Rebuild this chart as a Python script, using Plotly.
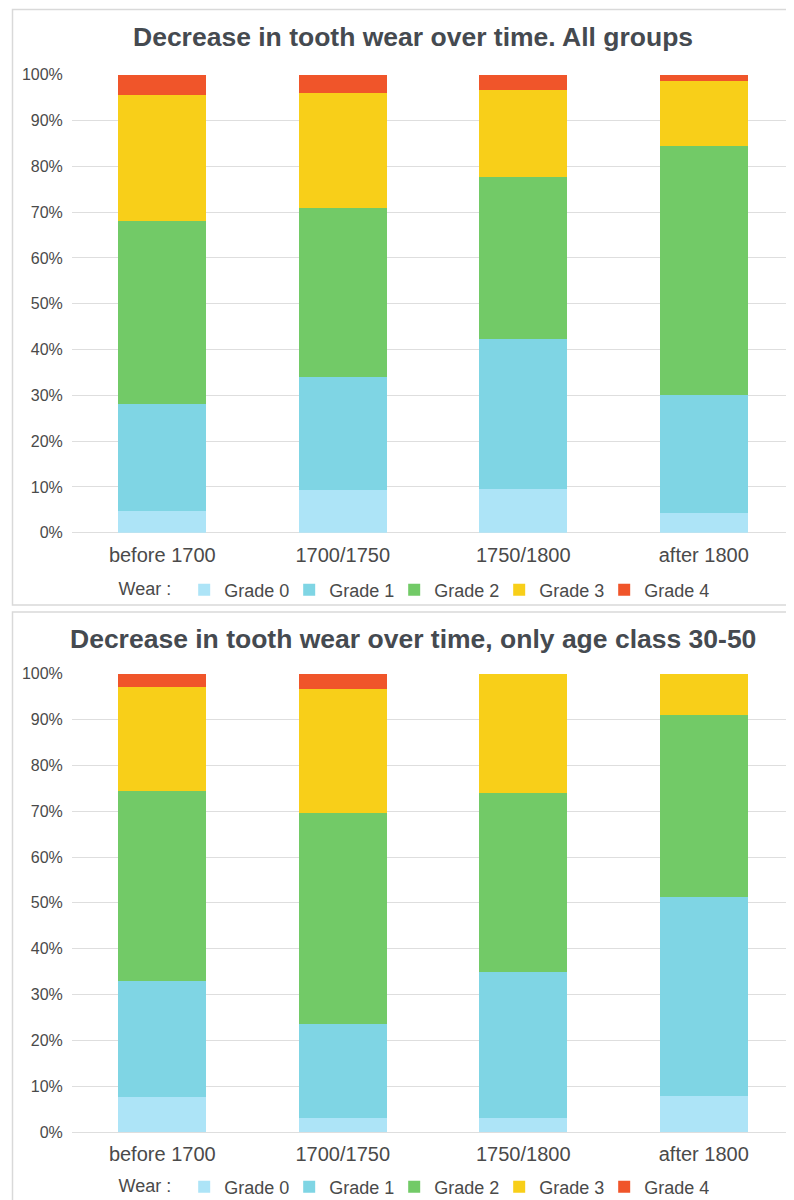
import plotly.graph_objects as go
from plotly.subplots import make_subplots

categories = ["before 1700", "1700/1750", "1750/1800", "after 1800"]
grades = ["Grade 0", "Grade 1", "Grade 2", "Grade 3", "Grade 4"]
colors = ["#ade4f7", "#7fd5e4", "#72ca67", "#f8cf19", "#f0552a"]

# All groups (percent per period)
all_g0 = [4.7, 9.4, 9.6, 4.4]
all_g1 = [23.5, 24.6, 32.8, 25.6]
all_g2 = [39.9, 37.0, 35.3, 54.5]
all_g3 = [27.5, 24.9, 19.0, 14.2]
all_g4 = [4.4, 4.1, 3.3, 1.3]

# Only age class 30-50
age_g0 = [7.6, 3.1, 3.1, 7.8]
age_g1 = [25.3, 20.5, 31.8, 43.4]
age_g2 = [41.4, 45.9, 39.1, 39.8]
age_g3 = [22.8, 27.2, 26.0, 9.0]
age_g4 = [2.9, 3.3, 0.0, 0.0]

titles = ["Decrease in tooth wear over time. All groups",
          "Decrease in tooth wear over time, only age class 30-50"]

FONT = "Liberation Sans, Arial, Helvetica, sans-serif"
TXT = "#4a4a4a"
OFF = 8  # page body margin
W, H = 794 - OFF, 1200 - OFF

fig = make_subplots(rows=2, cols=1)

top_series = [all_g0, all_g1, all_g2, all_g3, all_g4]
bot_series = [age_g0, age_g1, age_g2, age_g3, age_g4]

for i, (name, vals) in enumerate(zip(grades, top_series)):
    fig.add_trace(go.Bar(x=categories, y=vals, name=name, marker_color=colors[i],
                         marker_line_width=0, legend="legend"), row=1, col=1)
for i, (name, vals) in enumerate(zip(grades, bot_series)):
    fig.add_trace(go.Bar(x=categories, y=vals, name=name, marker_color=colors[i],
                         marker_line_width=0, legend="legend2"), row=2, col=1)

def py(px):
    return 1 - (px - OFF) / H

def pxx(px):
    return (px - OFF) / W

xdom = [pxx(72), 1.0]
fig.update_layout(
    width=W, height=H, margin=dict(l=0, r=0, t=0, b=0, autoexpand=False),
    paper_bgcolor="white", plot_bgcolor="white",
    barmode="stack", bargap=0.513,
    font=dict(family=FONT, color=TXT, size=16),
    xaxis=dict(domain=xdom, anchor="y"),
    yaxis=dict(domain=[py(532.7), py(74.7)], anchor="x"),
    xaxis2=dict(domain=xdom, anchor="y2"),
    yaxis2=dict(domain=[py(1132), py(673.7)], anchor="x2"),
)

common_legend = dict(orientation="h", xanchor="center", x=pxx(413), yanchor="middle",
                     font=dict(family=FONT, size=18, color=TXT),
                     title=dict(text="Wear : ", font=dict(family=FONT, size=18, color=TXT)),
                     traceorder="normal", itemwidth=30, entrywidth=60,
                     tracegroupgap=0, bgcolor="rgba(0,0,0,0)", itemclick=False)
fig.update_layout(legend=dict(common_legend, y=py(590)),
                  legend2=dict(common_legend, y=py(1187)))

for ax in ["xaxis", "xaxis2"]:
    fig.update_layout({ax: dict(showgrid=False, showline=False, zeroline=False, automargin=False,
                                ticks="outside", ticklen=4, tickcolor="rgba(0,0,0,0)",
                                tickfont=dict(family=FONT, size=20, color=TXT))})
for ax in ["yaxis", "yaxis2"]:
    fig.update_layout({ax: dict(range=[0, 100], dtick=10, ticksuffix="%", automargin=False,
                                showgrid=True, gridcolor="#dedede", gridwidth=1.2,
                                zeroline=True, zerolinecolor="#dedede", zerolinewidth=1.2,
                                showline=False,
                                ticks="outside", ticklen=5, tickcolor="rgba(0,0,0,0)",
                                tickfont=dict(family=FONT, size=16, color=TXT))})

# Panel borders
fig.add_shape(type="rect", xref="paper", yref="paper",
              x0=pxx(12.5), x1=1.02, y0=py(605), y1=py(9.5),
              line=dict(color="#d9d9d9", width=1.5), fillcolor="rgba(0,0,0,0)", layer="below")
fig.add_shape(type="rect", xref="paper", yref="paper",
              x0=pxx(12.5), x1=1.02, y0=-0.02, y1=py(612),
              line=dict(color="#d9d9d9", width=1.5), fillcolor="rgba(0,0,0,0)", layer="below")

# Titles
for t, yc in zip(titles, [37, 639]):
    fig.add_annotation(text="<b>" + t + "</b>", xref="paper", yref="paper",
                       x=pxx(413), y=py(yc), xanchor="center", yanchor="middle",
                       showarrow=False, font=dict(family=FONT, size=26.5, color="#454a50"))

fig.write_html("out.html")
